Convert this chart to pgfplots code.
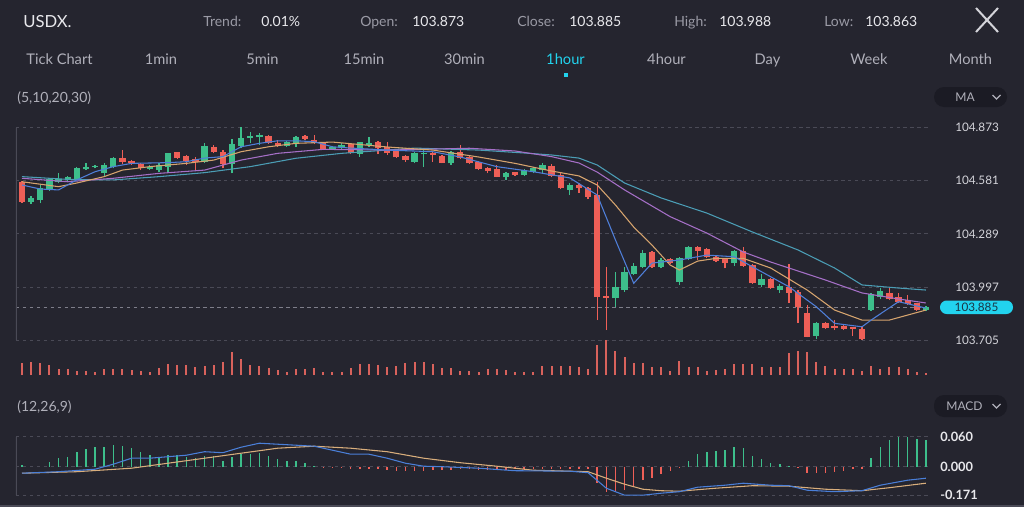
\documentclass[border=0pt]{standalone}
\usepackage{pgfplots}
\pgfplotsset{compat=1.18}
\usepackage{pgfplotstable}
\usepackage{fontspec}
\setmainfont{Lato}

\definecolor{bg}{HTML}{25252F}
\definecolor{gridc}{HTML}{4A4A56}
\definecolor{curline}{HTML}{7E7E8A}
\definecolor{upc}{HTML}{3DBE8B}
\definecolor{dnc}{HTML}{EE5F57}
\definecolor{volc}{HTML}{D8625C}
\definecolor{maA}{HTML}{4F7FD9}
\definecolor{maB}{HTML}{D6A46E}
\definecolor{maC}{HTML}{A56FC7}
\definecolor{maD}{HTML}{4B9DB5}
\definecolor{difc}{HTML}{4A7FD8}
\definecolor{deac}{HTML}{D9AE7C}
\definecolor{lbl}{HTML}{9A9AA5}
\definecolor{val}{HTML}{E8E8EC}
\definecolor{tab}{HTML}{B0B0BA}
\definecolor{cyanc}{HTML}{22D3EE}
\definecolor{pill}{HTML}{1B1B24}
\definecolor{axtxt}{HTML}{D4D4DA}
\definecolor{badgetxt}{HTML}{1A3444}

% hourly candles, index i = 0..99
\pgfplotstableread{
i o h l c
0 104.575 104.579 104.458 104.465
1 104.465 104.497 104.453 104.484
2 104.475 104.557 104.456 104.542
3 104.533 104.597 104.526 104.588
4 104.575 104.623 104.568 104.590
5 104.585 104.607 104.577 104.599
6 104.588 104.658 104.585 104.649
7 104.643 104.678 104.639 104.658
8 104.654 104.669 104.649 104.663
9 104.625 104.676 104.603 104.667
10 104.658 104.709 104.649 104.704
11 104.704 104.749 104.672 104.685
12 104.689 104.694 104.667 104.676
13 104.672 104.676 104.639 104.649
14 104.647 104.667 104.639 104.658
15 104.639 104.676 104.630 104.667
16 104.658 104.735 104.621 104.731
17 104.737 104.740 104.700 104.704
18 104.718 104.722 104.667 104.689
19 104.698 104.713 104.639 104.685
20 104.685 104.786 104.680 104.771
21 104.767 104.777 104.731 104.737
22 104.740 104.749 104.649 104.671
23 104.671 104.808 104.621 104.782
24 104.771 104.874 104.759 104.814
25 104.814 104.850 104.786 104.826
26 104.819 104.841 104.777 104.832
27 104.828 104.832 104.782 104.786
28 104.786 104.804 104.767 104.773
29 104.773 104.800 104.766 104.795
30 104.782 104.826 104.767 104.819
31 104.826 104.832 104.804 104.810
32 104.804 104.832 104.782 104.786
33 104.790 104.795 104.749 104.753
34 104.755 104.770 104.749 104.764
35 104.764 104.786 104.749 104.777
36 104.782 104.786 104.727 104.731
37 104.727 104.795 104.713 104.792
38 104.777 104.822 104.767 104.786
39 104.795 104.800 104.727 104.759
40 104.764 104.795 104.722 104.731
41 104.744 104.749 104.705 104.709
42 104.716 104.722 104.685 104.694
43 104.685 104.740 104.676 104.731
44 104.726 104.749 104.658 104.731
45 104.731 104.740 104.685 104.722
46 104.716 104.722 104.676 104.680
47 104.676 104.746 104.667 104.737
48 104.740 104.777 104.698 104.704
49 104.713 104.718 104.672 104.676
50 104.685 104.691 104.639 104.643
51 104.652 104.658 104.621 104.636
52 104.643 104.667 104.599 104.603
53 104.599 104.630 104.585 104.625
54 104.627 104.630 104.607 104.612
55 104.612 104.643 104.607 104.639
56 104.627 104.658 104.621 104.652
57 104.639 104.676 104.621 104.667
58 104.661 104.672 104.599 104.607
59 104.612 104.621 104.533 104.539
60 104.530 104.566 104.502 104.557
61 104.557 104.566 104.515 104.539
62 104.539 104.548 104.478 104.493
63 104.502 104.575 103.815 103.940
64 103.947 104.106 103.760 103.936
65 103.934 104.081 103.888 103.998
66 103.980 104.106 103.971 104.081
67 104.068 104.130 104.062 104.112
68 104.105 104.200 104.099 104.185
69 104.191 104.196 104.101 104.105
70 104.105 104.154 104.099 104.145
71 104.150 104.154 104.123 104.130
72 104.026 104.163 104.008 104.154
73 104.149 104.222 104.145 104.218
74 104.218 104.224 104.145 104.194
75 104.204 104.209 104.154 104.160
76 104.163 104.167 104.134 104.141
77 104.150 104.154 104.099 104.127
78 104.130 104.200 104.112 104.196
79 104.194 104.218 104.108 104.112
80 104.117 104.121 104.013 104.017
81 104.008 104.066 103.995 104.040
82 104.040 104.046 103.985 103.989
83 103.980 104.013 103.965 104.002
84 103.998 104.123 103.910 103.965
85 103.971 103.980 103.799 103.885
86 103.852 103.898 103.720 103.723
87 103.727 103.806 103.709 103.797
88 103.800 103.806 103.766 103.770
89 103.784 103.815 103.760 103.770
90 103.782 103.787 103.760 103.766
91 103.775 103.778 103.727 103.766
92 103.764 103.778 103.705 103.709
93 103.870 103.962 103.866 103.956
94 103.940 103.989 103.929 103.975
95 103.965 103.989 103.925 103.929
96 103.940 103.962 103.910 103.916
97 103.925 103.953 103.898 103.903
98 103.907 103.910 103.865 103.870
99 103.873 103.892 103.863 103.885
}\candles

% volume (v) and MACD histogram (m)
\pgfplotstableread{
i v m
0 12.3 0.003
1 13.3 0
2 12.3 0
3 10 0.010
4 6 0.017
5 5.7 0.020
6 4 0.030
7 4.3 0.035
8 3.3 0.039
9 6.3 0.040
10 6.3 0.043
11 6.3 0.042
12 5 0.038
13 4 0.030
14 3.3 0.023
15 7 0.020
16 11 0.023
17 10 0.023
18 10 0.020
19 7.7 0.017
20 9 0.021
21 10 0.021
22 12.7 0.012
23 22.7 0.019
24 16 0.025
25 10 0.025
26 9 0.027
27 7 0.021
28 5 0.015
29 3 0.011
30 5.7 0.011
31 5.7 0.008
32 7 0.001
33 3.3 -0.002
34 3 -0.003
35 3.3 -0.003
36 7 -0.004
37 11 -0.005
38 10.7 -0.005
39 10 -0.005
40 8.3 -0.007
41 9 -0.009
42 11.7 -0.009
43 12.7 -0.008
44 13.3 -0.008
45 10.7 -0.007
46 7 -0.006
47 6.7 -0.006
48 4.3 -0.005
49 4 -0.005
50 3.3 -0.007
51 6.3 -0.006
52 6 -0.007
53 5 -0.007
54 2.7 -0.005
55 2.7 -0.005
56 3.3 -0.005
57 9.3 -0.004
58 9.3 -0.004
59 9.3 -0.005
60 9.3 -0.005
61 8.3 -0.005
62 6 -0.005
63 30 -0.033
64 35 -0.050
65 24 -0.050
66 18.3 -0.047
67 11.7 -0.040
68 11.7 -0.027
69 8.3 -0.022
70 7.7 -0.015
71 4.3 -0.009
72 14.3 -0.002
73 8.3 0.012
74 8.3 0.025
75 4.3 0.030
76 5 0.032
77 6 0.033
78 10.7 0.040
79 10.7 0.037
80 10.7 0.021
81 8.3 0.015
82 8.3 0.008
83 7.7 0.005
84 22.3 0.001
85 24 -0.003
86 22.7 -0.012
87 13.3 -0.012
88 9 -0.013
89 6 -0.011
90 6 -0.009
91 6 -0.005
92 4 -0.005
93 9.3 0.017
94 6 0.040
95 7.7 0.053
96 7.7 0.060
97 5.7 0.060
98 3.3 0.055
99 2.3 0.053
}\volmacd

\pgfplotsset{
  chartx/.style={scale only axis, width=686.25pt, xmin=-0.657, xmax=99.56,
    axis line style={draw=none}, xtick=\empty, major tick length=0pt,
    scaled y ticks=false, anchor=south west},
  dgrid/.style={draw=gridc, line width=0.6pt, dash pattern=on 2.6pt off 2.6pt},
}
\newcommand\fhead{\fontsize{10.5}{12}\selectfont}
\newcommand\ftab{\fontsize{11}{13}\selectfont}

\begin{document}
\begin{tikzpicture}
\fill[bg, use as bounding box] (0,0) rectangle (768pt,-380.25pt);

% ---- price panel
\begin{axis}[chartx, at={(12pt,-258.75pt)}, height=168.75pt,
  ymin=103.678, ymax=104.9142,
  ytick={103.705,103.997,104.289,104.581,104.873},
  yticklabels={103.705,103.997,104.289,104.581,104.873},
  yticklabel pos=right,
  yticklabel style={anchor=west, inner sep=0pt, xshift=18pt, text=axtxt,
    font=\fontsize{8.8}{10}\selectfont},
  ymajorgrids, grid style={dgrid},
  extra y ticks={103.885}, extra y tick labels={},
  extra y tick style={grid style={draw=curline, line width=0.6pt, dash pattern=on 2.6pt off 2.6pt}}]
\draw[gridc, line width=0.8pt] (axis cs:-0.657,104.873) -- (axis cs:-0.657,103.705);
% wicks
\addplot[draw=none, forget plot, restrict expr to domain={\thisrow{c}-\thisrow{o}}{0:1},
  error bars/.cd, y dir=plus, y explicit, error mark=none,
  error bar style={draw=upc, solid, line width=0.95pt}]
  table[x=i, y=l, y error plus expr={\thisrow{h}-\thisrow{l}}] {\candles};
\addplot[draw=none, forget plot, restrict expr to domain={\thisrow{c}-\thisrow{o}}{-1:-0.0001},
  error bars/.cd, y dir=plus, y explicit, error mark=none,
  error bar style={draw=dnc, solid, line width=0.95pt}]
  table[x=i, y=l, y error plus expr={\thisrow{h}-\thisrow{l}}] {\candles};
% bodies
\addplot[draw=none, forget plot, restrict expr to domain={\thisrow{c}-\thisrow{o}}{0:1},
  error bars/.cd, y dir=plus, y explicit, error mark=none,
  error bar style={draw=upc, solid, line width=4.7pt}]
  table[x=i, y expr={min(\thisrow{o},\thisrow{c})},
        y error plus expr={max(abs(\thisrow{c}-\thisrow{o}),0.007)}] {\candles};
\addplot[draw=none, forget plot, restrict expr to domain={\thisrow{c}-\thisrow{o}}{-1:-0.0001},
  error bars/.cd, y dir=plus, y explicit, error mark=none,
  error bar style={draw=dnc, solid, line width=4.7pt}]
  table[x=i, y expr={min(\thisrow{o},\thisrow{c})},
        y error plus expr={max(abs(\thisrow{c}-\thisrow{o}),0.007)}] {\candles};
% moving averages 30, 20, 10, 5
\addplot[maD, line width=0.8pt, mark=none] coordinates {(0,104.603) (5,104.588) (10,104.585) (15,104.603) (20,104.625) (25,104.658) (30,104.704) (35,104.731) (43,104.760) (50,104.749) (55,104.733) (58,104.722) (61,104.705) (63,104.667) (66,104.568) (70,104.486) (75,104.403) (80,104.299) (85,104.200) (89,104.101) (92,104.008) (96,103.991) (99,103.980)};
\addplot[maC, line width=0.8pt, mark=none] coordinates {(0,104.594) (5,104.575) (10,104.594) (15,104.621) (20,104.639) (24,104.694) (28,104.731) (33,104.753) (40,104.749) (49,104.759) (54,104.744) (58,104.713) (61,104.678) (63,104.628) (66,104.530) (71,104.383) (75,104.293) (79,104.189) (82,104.134) (84,104.101) (88,104.035) (92,103.964) (96,103.931) (99,103.909)};
\addplot[maB, line width=0.8pt, mark=none] coordinates {(0,104.575) (4,104.548) (6,104.568) (9,104.603) (11,104.639) (14,104.658) (18,104.676) (21,104.694) (24,104.740) (27,104.767) (30,104.786) (34,104.793) (40,104.766) (45,104.749) (50,104.711) (54,104.676) (58,104.634) (61,104.607) (63,104.557) (65,104.447) (67,104.326) (69,104.227) (71,104.117) (72,104.090) (74,104.139) (76,104.154) (79,104.154) (82,104.101) (86,103.980) (89,103.870) (92,103.815) (95,103.815) (99,103.870)};
\addplot[maA, line width=0.8pt, mark=none] coordinates {(0,104.557) (2,104.535) (4,104.530) (6,104.585) (8,104.630) (10,104.658) (12,104.676) (14,104.678) (16,104.680) (18,104.685) (20,104.705) (22,104.713) (24,104.767) (26,104.786) (28,104.800) (30,104.800) (32,104.795) (34,104.767) (36,104.760) (40,104.749) (45,104.740) (48,104.711) (52,104.658) (56,104.630) (60,104.596) (63,104.502) (65,104.255) (67,104.017) (69,104.128) (72,104.145) (75,104.172) (78,104.163) (80,104.108) (84,103.998) (87,103.888) (89,103.797) (92,103.778) (93,103.815) (96,103.916) (99,103.881)};
\end{axis}

% ---- volume panel
\begin{axis}[chartx, at={(12pt,-281.25pt)}, height=30pt, ymin=0, ymax=40, ytick=\empty]
\addplot[ycomb, volc, line width=1.5pt, mark=none] table[x=i, y=v] {\volmacd};
\end{axis}

% ---- MACD panel
\begin{axis}[chartx, at={(12pt,-375pt)}, height=52.5pt, ymin=-0.0666, ymax=0.0734,
  ytick={-0.057,0,0.06}, yticklabels={-0.171,0.000,0.060},
  yticklabel pos=right,
  yticklabel style={anchor=west, inner sep=0pt, xshift=6.75pt, text=val,
    font=\bfseries\fontsize{9.6}{11}\selectfont},
  ymajorgrids, grid style={dgrid}]
\draw[gridc, line width=0.8pt] (axis cs:-0.657,0.06) -- (axis cs:-0.657,-0.057);
\addplot[ycomb, upc, line width=1.1pt, mark=none, restrict y to domain=0.0001:1] table[x=i, y=m] {\volmacd};
\addplot[ycomb, dnc, line width=1.1pt, mark=none, restrict y to domain=-1:-0.0001] table[x=i, y=m] {\volmacd};
\addplot[deac, line width=0.8pt, mark=none] coordinates {(0,-0.013) (6,-0.010) (12,-0.003) (16,0.007) (20,0.017) (24,0.027) (28,0.037) (32,0.041) (36,0.037) (40,0.030) (44,0.017) (48,0.008) (52,0.001) (56,-0.007) (62,-0.010) (64,-0.023) (66,-0.035) (68,-0.045) (70,-0.048) (72,-0.049) (76,-0.043) (80,-0.038) (84,-0.039) (88,-0.045) (92,-0.048) (95,-0.042) (99,-0.033)};
\addplot[difc, line width=0.8pt, mark=none] coordinates {(0,-0.013) (4,-0.010) (8,-0.005) (10,0.005) (12,0.017) (14,0.017) (16,0.020) (18,0.023) (20,0.030) (22,0.028) (24,0.039) (26,0.047) (28,0.045) (30,0.043) (32,0.041) (34,0.033) (36,0.025) (38,0.025) (40,0.017) (42,0.007) (44,0.001) (46,0.000) (50,-0.003) (54,-0.008) (60,-0.009) (62,-0.012) (64,-0.043) (66,-0.057) (68,-0.057) (70,-0.053) (72,-0.050) (74,-0.041) (77,-0.037) (79,-0.033) (82,-0.037) (84,-0.038) (86,-0.047) (89,-0.050) (92,-0.048) (94,-0.037) (97,-0.027) (99,-0.023)};
\end{axis}

% ---- header, tabs and buttons (pixel coordinates)
\begin{scope}[x=0.75pt, y=-0.75pt]
\node[anchor=base west, inner sep=0pt, text=val, font=\fontsize{12.5}{14}\selectfont] at (23,27) {USDX.};
\begin{scope}[every node/.style={anchor=base west, inner sep=0pt, font=\fhead}]
\node[text=lbl] at (203,26) {Trend:};  \node[text=val] at (261,26) {0.01\%};
\node[text=lbl] at (360,26) {Open:};   \node[text=val] at (412,26) {103.873};
\node[text=lbl] at (517,26) {Close:};  \node[text=val] at (569,26) {103.885};
\node[text=lbl] at (674,26) {High:};   \node[text=val] at (719,26) {103.988};
\node[text=lbl] at (824,26) {Low:};    \node[text=val] at (865,26) {103.863};
\end{scope}
\draw[axtxt, line width=1.5pt] (976,8) -- (998,32) (998,8) -- (976,32);
\begin{scope}[every node/.style={anchor=base, inner sep=0pt, font=\ftab, text=tab}]
\node at (59.5,64) {Tick Chart};
\node at (161,64) {1min};
\node at (262.5,64) {5min};
\node at (364,64) {15min};
\node at (464.5,64) {30min};
\node[text=cyanc] at (565.5,64) {1hour};
\node at (666.5,64) {4hour};
\node at (767.5,64) {Day};
\node at (869,64) {Week};
\node at (970.5,64) {Month};
\end{scope}
\fill[cyanc] (563.5,73) rectangle (567.5,77);
\node[anchor=base west, inner sep=0pt, text=tab, font=\fhead] at (17,102) {(5,10,20,30)};
\node[anchor=base west, inner sep=0pt, text=tab, font=\fhead] at (17,411) {(12,26,9)};
\fill[pill, rounded corners=7.5pt] (934,87) rectangle (1007,107);
\node[anchor=center, inner sep=0pt, text=tab, font=\fontsize{9}{10}\selectfont] at (965,97) {MA};
\draw[tab, line width=0.9pt] (992.5,95) -- (996.5,99) -- (1000.5,95);
\fill[pill, rounded corners=7.5pt] (934,395) rectangle (1007,417);
\node[anchor=center, inner sep=0pt, text=tab, font=\fontsize{9}{10}\selectfont] at (964.5,406) {MACD};
\draw[tab, line width=0.9pt] (992.5,404) -- (996.5,408) -- (1000.5,404);
\fill[cyanc, rounded corners=5pt] (940,300.5) rectangle (1013,314);
\node[anchor=center, inner sep=0pt, text=badgetxt, font=\fontsize{8.8}{10}\selectfont] at (976.5,307.5) {103.885};
\fill[gridc] (0,505) rectangle (1024,507);
\end{scope}
\end{tikzpicture}
\end{document}
